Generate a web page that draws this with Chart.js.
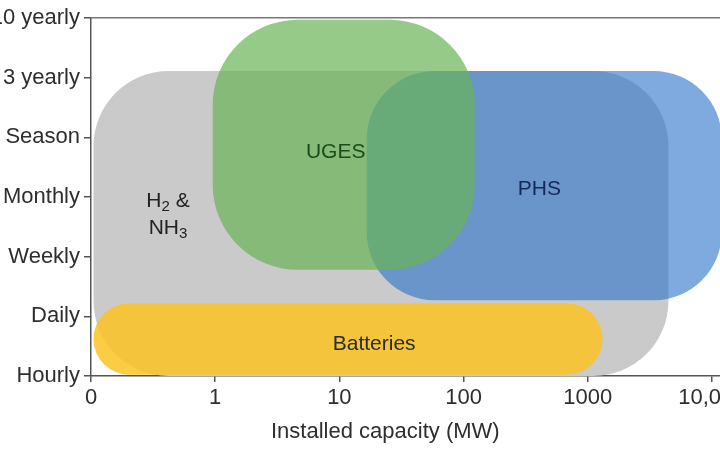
<!DOCTYPE html>
<html>
<head>
<meta charset="utf-8">
<script src="https://cdn.jsdelivr.net/npm/chart.js@4"></script>
<style>
  html, body { margin: 0; padding: 0; background: #fff; overflow: hidden; }
  #wrap { position: absolute; left: -20px; top: 0; width: 800px; height: 450px; }
</style>
</head>
<body>
<div id="wrap"><canvas id="myChart" width="800" height="450"></canvas></div>
<script>
// axis labels
const durationLabels = ["Hourly", "Daily", "Weekly", "Monthly", "Season", "3 yearly", "10 yearly"];
const capacityLabels = ["0", "1", "10", "100", "1000", "10,000"];
const capacityTitle = "Installed capacity (MW)";
const titleCapacity = 2.37; // title is centred on this capacity step

// technologies (digits after letters are drawn as subscripts)
const techNames = ["H2 &\nNH3", "Batteries", "PHS", "UGES"];
// extent on the capacity axis, in tick steps (0 = 0 MW, 1 = 1 MW, 2 = 10 MW ...)
const capacityFrom = [0.02, 0.02, 2.22, 0.98];
const capacityTo   = [4.65, 4.12, 5.08, 3.09];
// extent on the duration axis (0 = Hourly ... 6 = 10 yearly)
const durationFrom = [0.00, 0.02, 1.27, 1.78];
const durationTo   = [5.11, 1.22, 5.11, 5.97];
// where each name sits
const labelCapacity = [0.62, 2.28, 3.61, 1.97];
const labelDuration = [2.71, 0.54, 3.13, 3.75];

// styles
const fills = ["#cacaca", "rgba(252,195,35,0.85)", "rgba(40,113,203,0.6)", "rgba(105,179,85,0.7)"];
const textColors = ["#222", "#2a2a2a", "#16285a", "#1c4a1c"];
const radii = [75, 36, 68, 85];
const family = "'Liberation Sans', Arial, sans-serif";

// draws a line of text, digits after letters become subscripts
function drawChemLine(ctx, line, cx, cy, size) {
  const parts = [];
  for (let i = 0; i < line.length; i++) {
    const ch = line[i];
    const sub = /[0-9]/.test(ch) && i > 0 && /[A-Za-z]/.test(line[i - 1]);
    parts.push({ ch, sub });
  }
  const big = size + "px " + family;
  const small = Math.round(size * 0.7) + "px " + family;
  let total = 0;
  parts.forEach(p => { ctx.font = p.sub ? small : big; p.w = ctx.measureText(p.ch).width; total += p.w; });
  let x = cx - total / 2;
  parts.forEach(p => {
    ctx.font = p.sub ? small : big;
    ctx.fillText(p.ch, x, p.sub ? cy + size * 0.3 : cy);
    x += p.w;
  });
}

const boxPlugin = {
  id: "boxes",
  beforeDatasetsDraw(chart) {
    const { ctx, chartArea, scales: { x, y } } = chart;
    ctx.save();
    ctx.beginPath();
    ctx.rect(chartArea.left, chartArea.top, chartArea.width, chartArea.height);
    ctx.clip();
    chart.data.datasets.forEach((ds, i) => {
      const [p0, p1] = ds.data;
      const l = x.getPixelForValue(p0.x), r = x.getPixelForValue(p1.x);
      const t = y.getPixelForValue(p1.y), b = y.getPixelForValue(p0.y);
      ctx.beginPath();
      ctx.roundRect(l, t, r - l, b - t, radii[i]);
      ctx.fillStyle = fills[i];
      ctx.fill();
    });
    ctx.textAlign = "left";
    ctx.textBaseline = "middle";
    techNames.forEach((name, i) => {
      const lines = name.split("\n");
      const cx = x.getPixelForValue(labelCapacity[i]);
      const cy = y.getPixelForValue(labelDuration[i]);
      const lh = 27;
      ctx.fillStyle = textColors[i];
      lines.forEach((ln, k) => {
        drawChemLine(ctx, ln, cx, cy + (k - (lines.length - 1) / 2) * lh, 21);
      });
    });
    ctx.restore();
  },
  afterDraw(chart) {
    // axis title, centred under the visible part of the axis
    const { ctx, scales: { x } } = chart;
    ctx.save();
    ctx.font = "22px " + family;
    ctx.fillStyle = "#2e2e2e";
    ctx.textAlign = "center";
    ctx.textBaseline = "middle";
    ctx.fillText(capacityTitle, x.getPixelForValue(titleCapacity), x.bottom - 18);
    ctx.restore();
  }
};

const ctx = document.getElementById("myChart").getContext("2d");
const myChart = new Chart(ctx, {
  type: "scatter",
  data: {
    datasets: techNames.map((name, i) => ({
      label: name,
      data: [
        { x: capacityFrom[i], y: durationFrom[i] },
        { x: capacityTo[i], y: durationTo[i] }
      ],
      pointRadius: 0,
      pointHoverRadius: 0
    }))
  },
  options: {
    responsive: false,
    animation: false,
    layout: { padding: { top: 18, right: 6, left: 0, bottom: 0 } },
    plugins: { legend: { display: false }, tooltip: { enabled: false } },
    scales: {
      x: {
        type: "linear",
        min: 0,
        max: 5.5,
        afterBuildTicks: s => { s.ticks = capacityLabels.map((_, i) => ({ value: i })); },
        afterFit: s => { s.height = 74; },
        ticks: {
          callback: (v, i) => capacityLabels[i],
          color: "#2e2e2e",
          font: { size: 22, family },
          padding: 3,
          maxRotation: 0,
          autoSkip: false
        },
        grid: { drawOnChartArea: false, color: "#555", tickLength: 6, lineWidth: 1.5 },
        border: { color: "#555", width: 1.5 },
        title: { display: false }
      },
      y: {
        type: "linear",
        min: 0,
        max: 6,
        afterBuildTicks: s => { s.ticks = durationLabels.map((_, i) => ({ value: i })); },
        afterFit: s => { s.width = 111; },
        ticks: {
          callback: (v, i) => durationLabels[i],
          color: "#2e2e2e",
          font: { size: 22, family },
          padding: 4,
          autoSkip: false
        },
        grid: {
          color: c => (c.tick && c.tick.value === 6 ? "#777" : "transparent"),
          tickColor: "#555",
          tickLength: 7,
          lineWidth: 1.5
        },
        border: { color: "#555", width: 1.5 }
      }
    }
  },
  plugins: [boxPlugin]
});
</script>
</body>
</html>
